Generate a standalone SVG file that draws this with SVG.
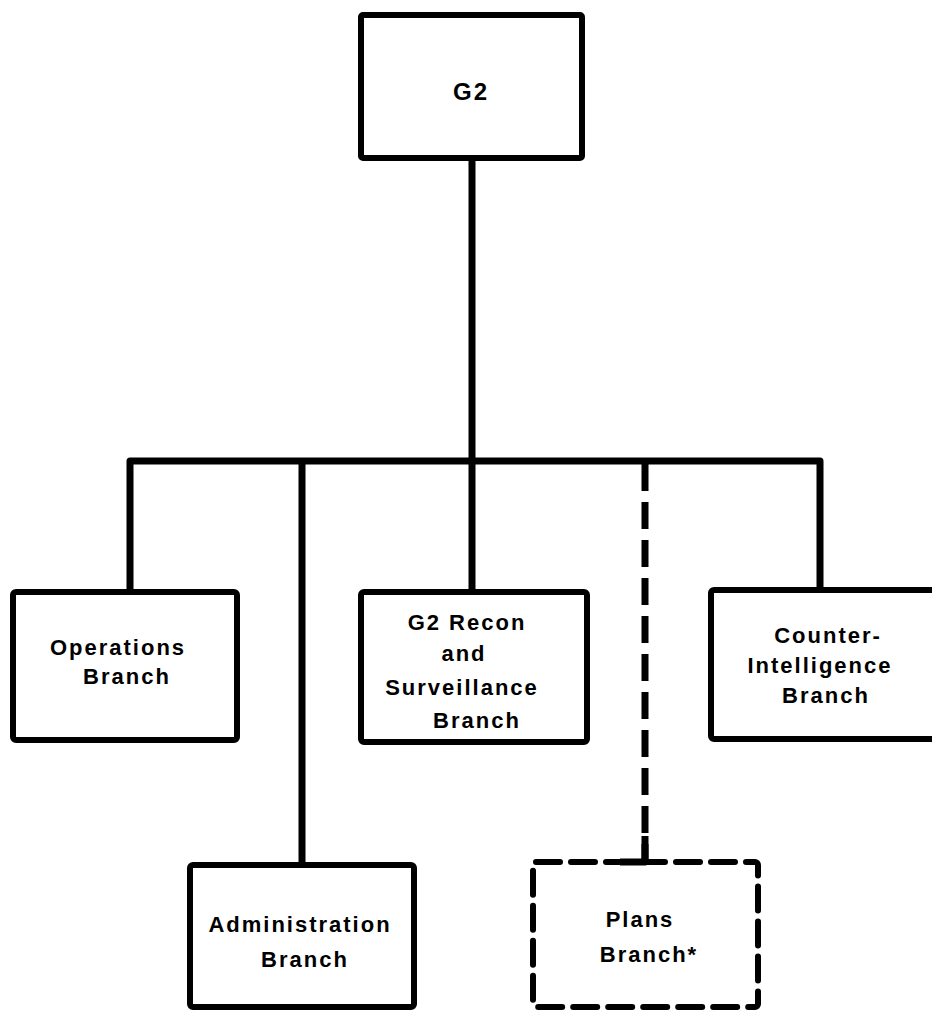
<svg xmlns="http://www.w3.org/2000/svg" width="932" height="1010" viewBox="0 0 932 1010">
  <style>
    .box { fill: #fff; stroke: #000; stroke-width: 6; stroke-linejoin: round; }
    .dashed { fill: #fff; stroke: #000; stroke-width: 6; stroke-dasharray: 24 11; stroke-linecap: round; }
    .line { fill: none; stroke: #000; stroke-width: 7; stroke-linejoin: round; }
    .dline { fill: none; stroke: #000; stroke-width: 7; stroke-dasharray: 27 11; }
    text { font-family: "Liberation Sans", Arial, sans-serif; font-weight: bold; font-size: 22px; letter-spacing: 2px; text-anchor: middle; fill: #000; }
  </style>
  <rect width="932" height="1010" fill="#fff"/>

  <!-- connectors -->
  <g id="connectors">
    <path class="line" d="M472 158 V461"/>
    <path class="line" d="M130 592 V461 H820 V592"/>
    <path class="line" d="M302 461 V865"/>
    <path class="line" d="M472 461 V592"/>
    <path class="dline" d="M645 464 V862"/>
  </g>

  <g id="g2">
    <rect class="box" x="361" y="15" width="221" height="143" rx="2"/>
    <text x="471" y="100" style="font-size:24px">G2</text>
  </g>

  <g id="operations">
    <rect class="box" x="13" y="592" width="224" height="148" rx="3"/>
    <text x="118" y="655">Operations</text>
    <text x="127" y="684">Branch</text>
  </g>

  <g id="recon">
    <rect class="box" x="361" y="592" width="226" height="150" rx="3"/>
    <text x="467" y="630">G2 Recon</text>
    <text x="464" y="661">and</text>
    <text x="462" y="695">Surveillance</text>
    <text x="477" y="728">Branch</text>
  </g>

  <g id="counter">
    <rect class="box" x="711" y="590" width="240" height="149" rx="3"/>
    <text x="828" y="643">Counter-</text>
    <text x="820" y="673">Intelligence</text>
    <text x="826" y="703">Branch</text>
  </g>

  <g id="administration">
    <rect class="box" x="190" y="865" width="224" height="142" rx="3"/>
    <text x="300" y="932">Administration</text>
    <text x="305" y="967">Branch</text>
  </g>

  <g id="plans">
    <rect class="dashed" x="533" y="862" width="225" height="145" rx="3"/>
    <path class="line" d="M645 836 V862 H620"/>
    <text x="640" y="927">Plans</text>
    <text x="649" y="962">Branch*</text>
  </g>
</svg>
